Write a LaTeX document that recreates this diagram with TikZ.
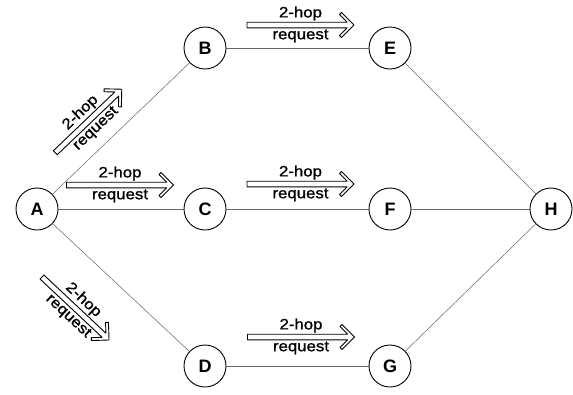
\documentclass[tikz,border=0pt]{standalone}
\usepackage{fontspec}
\setmainfont{Liberation Sans}
\newfontfamily\lblfont[FakeStretch=1.12,FakeBold=1.2]{Liberation Sans}
\newcommand\hoparrow[5]{%
  \begin{scope}[shift={(#2,#3)},rotate=#4,transform shape]
    \coordinate (#1-s) at (-#5pt,0pt);
    \coordinate (#1-e) at (#5pt,0pt);
    \draw[hop] (-#5pt,2.8pt) -- ({#5pt-6.9pt},2.8pt) -- ({#5pt-14.5pt},10.4pt)
      -- ({#5pt-12.5pt},12.5pt) -- (#1-e) -- ({#5pt-12.5pt},-12.5pt)
      -- ({#5pt-14.5pt},-10.4pt) -- ({#5pt-6.9pt},-2.8pt) -- (-#5pt,-2.8pt) -- cycle;
    \node[lbl,anchor=south] (#1-t) at (0pt,4.3pt) {2-hop};
    \node[lbl,anchor=north] (#1-b) at (0pt,-4.3pt) {request};
  \end{scope}}
\begin{document}
\begin{tikzpicture}[x=1pt,y=-1pt,
  nd/.style={circle,draw,line width=0.9pt,minimum size=42pt,inner sep=0pt,
    font=\fontsize{18}{18}\selectfont\bfseries},
  ln/.style={draw=black!60,line width=0.5pt},
  hop/.style={draw,fill=white,line width=0.9pt,line join=round},
  lbl/.style={font=\lblfont\fontsize{15}{15}\selectfont,inner sep=0pt}]
\useasboundingbox (0,0) rectangle (573,394);
\fill[white] (0,0) rectangle (573,394);
\node[nd] (A) at (37,209) {A};
\node[nd] (B) at (205,48) {B};
\node[nd] (C) at (205,209) {C};
\node[nd] (D) at (205,366) {D};
\node[nd] (E) at (390,48) {E};
\node[nd] (F) at (390,209) {F};
\node[nd] (G) at (390,366) {G};
\node[nd] (H) at (551,209) {H};
\draw[ln] (A) -- (B);
\draw[ln] (A) -- (C);
\draw[ln] (A) -- (D);
\draw[ln] (B) -- (E);
\draw[ln] (C) -- (F);
\draw[ln] (D) -- (G);
\draw[ln] (E) -- (H);
\draw[ln] (F) -- (H);
\draw[ln] (G) -- (H);
\hoparrow{ab}{88.5}{121}{43.7}{46}
\hoparrow{ac}{120}{185}{0}{53.5}
\hoparrow{ad}{75.5}{308.5}{-43.2}{46}
\hoparrow{be}{300.5}{25}{0}{53.5}
\hoparrow{cf}{300.5}{184}{0}{53.5}
\hoparrow{dg}{301}{337}{0}{53.5}
\end{tikzpicture}
\end{document}
